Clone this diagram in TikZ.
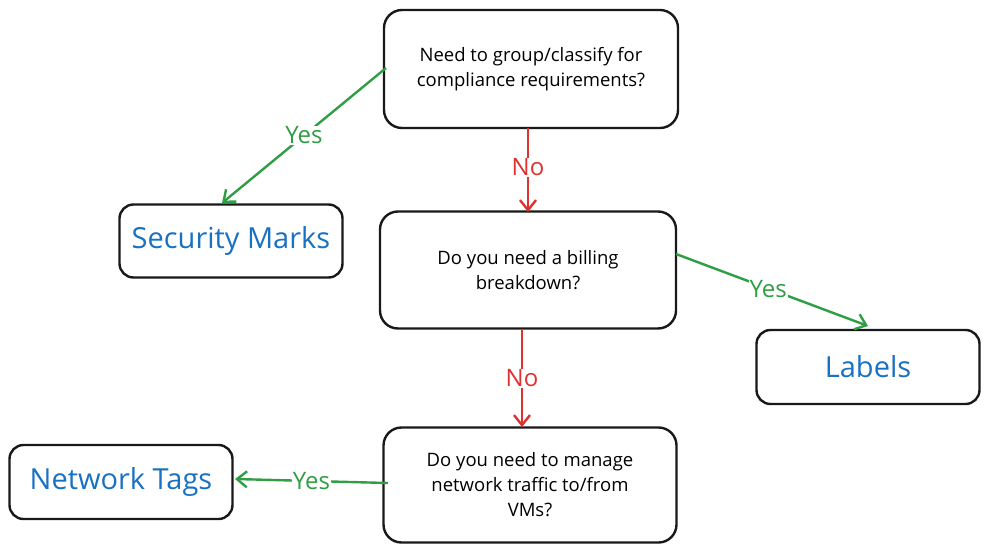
\documentclass[tikz,border=0pt]{standalone}
\usepackage{fontspec}
\setmainfont{Open Sans}
\usetikzlibrary{arrows.meta}
\definecolor{xgreen}{HTML}{2F9E44}
\definecolor{xred}{HTML}{E03131}
\definecolor{xblue}{HTML}{1971C2}
\begin{document}
\begin{tikzpicture}[x=1pt,y=-1pt,
  qbox/.style={draw=black!90,line width=2.4pt,rounded corners=18pt,align=center,font=\fontsize{18.5}{25}\selectfont,inner sep=0pt},
  abox/.style={draw=black!90,line width=2.4pt,rounded corners=14pt,text=xblue,font=\fontsize{29}{31}\selectfont,inner sep=0pt},
  yesarr/.style={draw=xgreen,line width=2.4pt,-{Straight Barb[length=10pt,width=16pt,line width=2.4pt]}},
  noarr/.style={draw=xred,line width=2.4pt,-{Straight Barb[length=10pt,width=16pt,line width=2.4pt]}},
  yeslab/.style={fill=white,text=xgreen,font=\fontsize{24}{26}\selectfont,inner sep=1pt},
  nolab/.style={fill=white,text=xred,font=\fontsize{24}{26}\selectfont,inner sep=1pt}]
\useasboundingbox (0,0) rectangle (990,554);
\node[qbox,minimum width=294pt,minimum height=118pt] (q1) at (531,69) {Need to group/classify for\\compliance requirements?};
\node[qbox,minimum width=296pt,minimum height=117pt] (q2) at (528,270) {Do you need a billing\\breakdown?};
\node[qbox,minimum width=293pt,minimum height=115pt] (q3) at (530,485) {Do you need to manage\\network traffic to/from\\VMs?};
\node[abox,minimum width=223pt,minimum height=73pt] (sm) at (231,241) {Security Marks};
\node[abox,minimum width=223pt,minimum height=74pt] (lb) at (868,367) {Labels};
\node[abox,minimum width=223pt,minimum height=74pt] (nt) at (121,482) {Network Tags};
\coordinate (q1l) at (386,68);
\coordinate (smt) at (222,203);
\coordinate (q1b) at (528,128);
\coordinate (q2t) at (528,212);
\coordinate (q2r) at (676,254);
\coordinate (lbt) at (868,326);
\coordinate (q2b) at (522,330);
\coordinate (q3t) at (522,427);
\coordinate (q3l) at (388,483);
\coordinate (ntr) at (235,479);
\draw[yesarr] (q1l) -- node[yeslab,pos=0.5] (y1) {Yes} (smt);
\draw[noarr] (q1b) -- node[nolab,pos=0.47] (n1) {No} (q2t);
\draw[yesarr] (q2r) -- node[yeslab,pos=0.48] (y2) {Yes} (lbt);
\draw[noarr] (q2b) -- node[nolab,pos=0.5] (n2) {No} (q3t);
\draw[yesarr] (q3l) -- node[yeslab,pos=0.5] (y3) {Yes} (ntr);
\end{tikzpicture}
\end{document}
